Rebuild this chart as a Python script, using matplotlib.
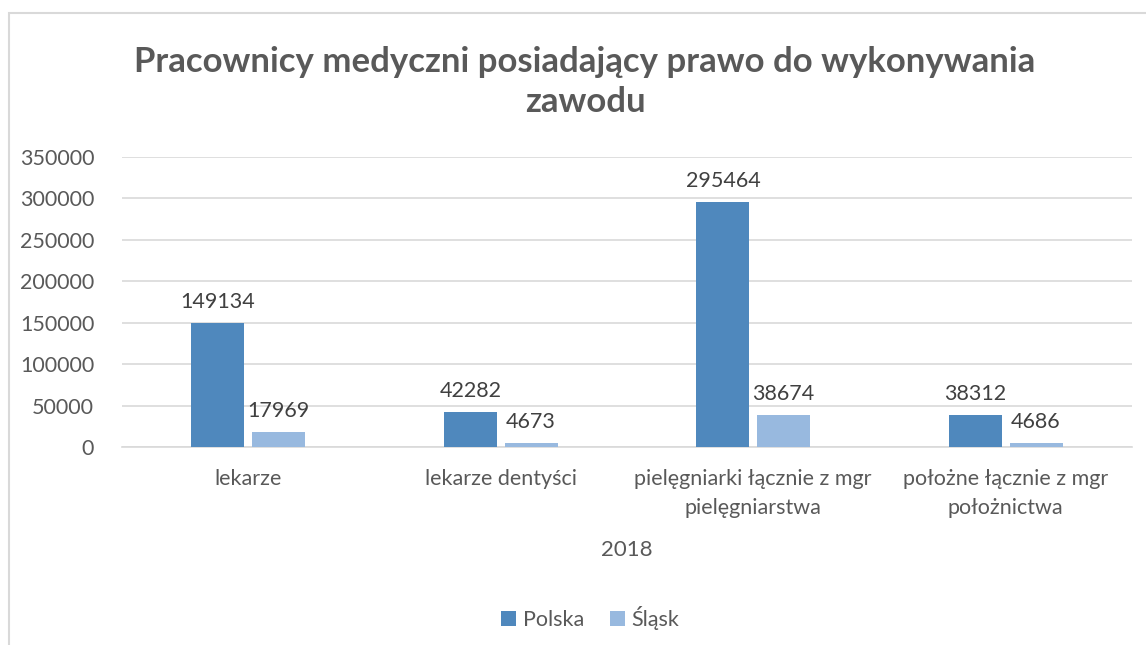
import numpy as np
import matplotlib.pyplot as plt
from matplotlib.patches import Rectangle

plt.rcParams['font.family'] = ['Lato', 'DejaVu Sans']

# Data
categories = ['lekarze', 'lekarze dentyści',
              'pielęgniarki łącznie z mgr\npielęgniarstwa',
              'położne łącznie z mgr\npołożnictwa']
polska = [149134, 42282, 295464, 38312]
slask = [17969, 4673, 38674, 4686]
series_names = ['Polska', 'Śląsk']
colors = ['#4f88bd', '#98b9df']
grey = '#595959'

W, H = 1146, 645
fig = plt.figure(figsize=(W / 100, H / 100), dpi=100)
ax = fig.add_axes([122 / W, 1 - 447 / H, (1132 - 122) / W, (447 - 157) / H])

# chart border (cropped on right/bottom like the source)
fig.add_artist(Rectangle((9 / W, -0.1), 1.2, 1 - 13 / H + 0.1, transform=fig.transFigure,
                         fill=False, edgecolor='#d9d9d9', linewidth=1.5))

x = np.arange(len(categories))
bw = 0.21
gap = 0.03
off = (bw + gap) / 2
for vals, name, col, sh in [(polska, series_names[0], colors[0], -off),
                            (slask, series_names[1], colors[1], off)]:
    bars = ax.bar(x + sh, vals, bw, color=col, label=name, zorder=3)
    for b, v in zip(bars, vals):
        ax.annotate(str(v), (b.get_x() + b.get_width() / 2, v), xytext=(0, 8),
                    textcoords='offset points', ha='center', va='bottom',
                    fontsize=15.5, color='#404040')

ax.set_xlim(-0.5, len(categories) - 0.5)
ax.set_ylim(0, 350000)
ax.set_yticks(np.arange(0, 350001, 50000))
ax.yaxis.grid(True, color='#d9d9d9', linewidth=1.2, zorder=0)
ax.set_axisbelow(True)
for s in ['top', 'right', 'left']:
    ax.spines[s].set_visible(False)
ax.spines['bottom'].set_color('#d9d9d9')
ax.spines['bottom'].set_linewidth(1.2)
ax.tick_params(length=0, labelsize=15.5, labelcolor=grey)
ax.tick_params(axis='y', pad=20)
ax.tick_params(axis='x', pad=16)
ax.set_xticks(x)
ax.set_xticklabels(categories, linespacing=1.55)
ax.set_xlabel('2018', fontsize=16, color=grey, labelpad=16)

fig.text(585 / W, 1 - 82 / H, 'Pracownicy medyczni posiadający prawo do wykonywania\nzawodu',
         ha='center', va='center', fontsize=25, fontweight='bold', color=grey,
         linespacing=1.3)

fig.legend(loc='center', bbox_to_anchor=(590 / W, 1 - 618 / H), ncol=2, frameon=False,
           fontsize=15.5, labelcolor=grey, handlelength=0.7, handleheight=0.7,
           handletextpad=0.3, columnspacing=1.2)

fig.savefig('out.png', dpi=100)
